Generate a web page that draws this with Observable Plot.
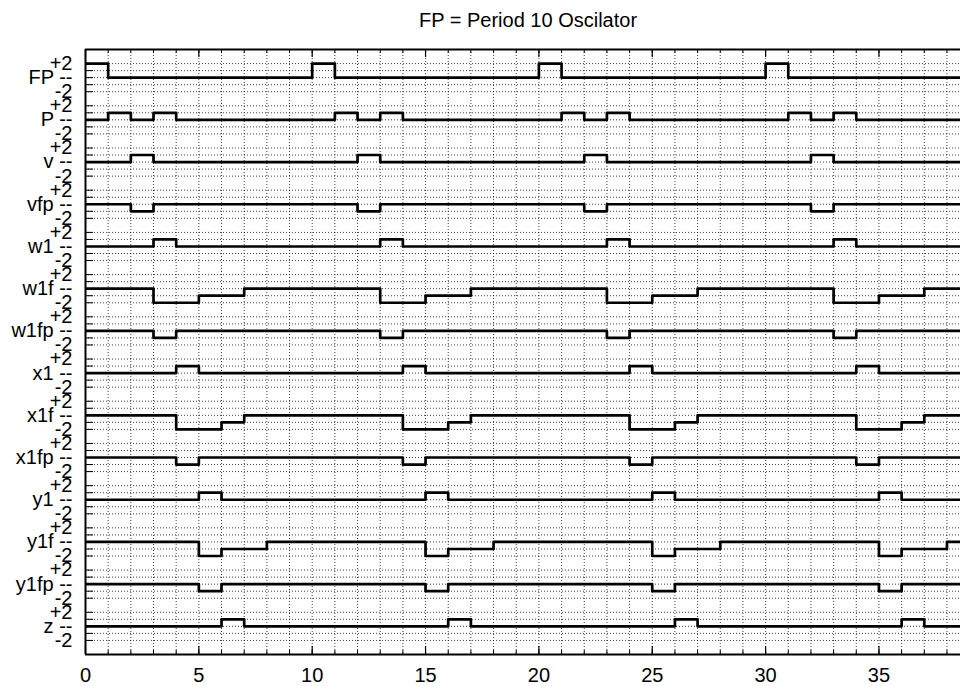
<!DOCTYPE html>
<html><head><meta charset="utf-8">
<script src="https://cdn.jsdelivr.net/npm/d3@7"></script>
<script src="https://cdn.jsdelivr.net/npm/@observablehq/plot@0.6"></script>
<style>body{margin:0;background:#fff}#chart svg{display:block}</style>
</head><body><div id="chart"></div>
<script>
const title = "FP = Period 10 Oscilator";
const names = ["FP","P","v","vfp","w1","w1f","w1fp","x1","x1f","x1fp","y1","y1f","y1fp","z"];
// values at t = 0..39 (step-after)
const FP   = [2,0,0,0,0,0,0,0,0,0, 2,0,0,0,0,0,0,0,0,0, 2,0,0,0,0,0,0,0,0,0, 2,0,0,0,0,0,0,0,0,0];
const P    = [0,1,0,1,0,0,0,0,0,0, 0,1,0,1,0,0,0,0,0,0, 0,1,0,1,0,0,0,0,0,0, 0,1,0,1,0,0,0,0,0,0];
const v    = [0,0,1,0,0,0,0,0,0,0, 0,0,1,0,0,0,0,0,0,0, 0,0,1,0,0,0,0,0,0,0, 0,0,1,0,0,0,0,0,0,0];
const vfp  = [0,0,-1,0,0,0,0,0,0,0, 0,0,-1,0,0,0,0,0,0,0, 0,0,-1,0,0,0,0,0,0,0, 0,0,-1,0,0,0,0,0,0,0];
const w1   = [0,0,0,1,0,0,0,0,0,0, 0,0,0,1,0,0,0,0,0,0, 0,0,0,1,0,0,0,0,0,0, 0,0,0,1,0,0,0,0,0,0];
const w1f  = [0,0,0,-2,-2,-1,-1,0,0,0, 0,0,0,-2,-2,-1,-1,0,0,0, 0,0,0,-2,-2,-1,-1,0,0,0, 0,0,0,-2,-2,-1,-1,0,0,0];
const w1fp = [0,0,0,-1,0,0,0,0,0,0, 0,0,0,-1,0,0,0,0,0,0, 0,0,0,-1,0,0,0,0,0,0, 0,0,0,-1,0,0,0,0,0,0];
const x1   = [0,0,0,0,1,0,0,0,0,0, 0,0,0,0,1,0,0,0,0,0, 0,0,0,0,1,0,0,0,0,0, 0,0,0,0,1,0,0,0,0,0];
const x1f  = [0,0,0,0,-2,-2,-1,0,0,0, 0,0,0,0,-2,-2,-1,0,0,0, 0,0,0,0,-2,-2,-1,0,0,0, 0,0,0,0,-2,-2,-1,0,0,0];
const x1fp = [0,0,0,0,-1,0,0,0,0,0, 0,0,0,0,-1,0,0,0,0,0, 0,0,0,0,-1,0,0,0,0,0, 0,0,0,0,-1,0,0,0,0,0];
const y1   = [0,0,0,0,0,1,0,0,0,0, 0,0,0,0,0,1,0,0,0,0, 0,0,0,0,0,1,0,0,0,0, 0,0,0,0,0,1,0,0,0,0];
const y1f  = [0,0,0,0,0,-2,-1,-1,0,0, 0,0,0,0,0,-2,-1,-1,0,0, 0,0,0,0,0,-2,-1,-1,0,0, 0,0,0,0,0,-2,-1,-1,0,0];
const y1fp = [0,0,0,0,0,-1,0,0,0,0, 0,0,0,0,0,-1,0,0,0,0, 0,0,0,0,0,-1,0,0,0,0, 0,0,0,0,0,-1,0,0,0,0];
const z    = [0,0,0,0,0,0,1,0,0,0, 0,0,0,0,0,0,1,0,0,0, 0,0,0,0,0,0,1,0,0,0, 0,0,0,0,0,0,1,0,0,0];
const series = [FP,P,v,vfp,w1,w1f,w1fp,x1,x1f,x1fp,y1,y1f,y1fp,z];

const bandLabels = ["+2","--","-2"];
const bandLabelOffsets = [2,0,-2];
const bandTickOffsets = [2,1,0,-1,-2];
const xMajorTicks = [0,5,10,15,20,25,30,35];
const xMinorTicks = [0,1,2,3,4,5,6,7,8,9,10,11,12,13,14,15,16,17,18,19,20,21,22,23,24,25,26,27,28,29,30,31,32,33,34,35,36,37,38];

// layout
const W = 960, H = 686, mL = 85, mR = 0, mT = 49, mB = 32;
const plotW = W - mL - mR, plotH = H - mT - mB;
const bandStep = 6;
const yDomain = [-(names.length - 1) * bandStep - 4, 4];
const xDomain = [0, plotW / 22.67];

const rows = [];
series.forEach((vals, k) => vals.forEach((val, t) => rows.push({name: names[k], t, y: -k * bandStep + val})));

const allYTicks = [];
const labelTicks = [];
const labelMap = new Map();
names.forEach((n, k) => {
  const c = -k * bandStep;
  bandTickOffsets.forEach(o => allYTicks.push(c + o));
  bandLabelOffsets.forEach((o, i) => {
    labelTicks.push(c + o);
    labelMap.set(c + o, i === 1 ? n + " " + bandLabels[i] : bandLabels[i]);
  });
});

const dotted = {stroke: "#000", strokeOpacity: 0.75, strokeDasharray: "1,2", strokeWidth: 1};

const chart = Plot.plot({
  width: W, height: H,
  marginLeft: mL, marginRight: mR, marginTop: mT, marginBottom: mB,
  style: {fontFamily: "'Liberation Sans', Arial, Helvetica, sans-serif", fontSize: "20px", background: "#fff", color: "#000"},
  x: {domain: xDomain},
  y: {domain: yDomain},
  marks: [
    Plot.ruleX(xMinorTicks, dotted),
    Plot.ruleY(allYTicks, dotted),
    Plot.ruleY(allYTicks, {stroke: "#000", strokeWidth: 1, insetRight: plotW - 8}),
    Plot.ruleX(xMinorTicks, {stroke: "#000", strokeWidth: 1, insetTop: plotH - 4}),
    Plot.ruleX(xMinorTicks, {stroke: "#000", strokeWidth: 1, insetBottom: plotH - 4}),
    Plot.ruleX(xMajorTicks, {stroke: "#000", strokeWidth: 1.2, insetTop: plotH - 8}),
    Plot.ruleX(xMajorTicks, {stroke: "#000", strokeWidth: 1.2, insetBottom: plotH - 8}),
    Plot.line(rows, {x: "t", y: "y", z: "name", curve: "step-after", stroke: "#000", strokeWidth: 2.7, clip: true}),
    Plot.ruleX([0], {stroke: "#000", strokeWidth: 2}),
    Plot.ruleY(yDomain, {stroke: "#000", strokeWidth: 2}),
    Plot.axisX(xMajorTicks, {anchor: "bottom", tickSize: 0, tickPadding: 13, label: null, fontSize: 20, tickFormat: d => String(d)}),
    Plot.axisY(labelTicks, {anchor: "left", tickSize: 0, tickPadding: 13, label: null, fontSize: 20, tickFormat: d => labelMap.get(d)}),
    Plot.text([title], {frameAnchor: "top", lineAnchor: "middle", dy: -29, dx: 5, fontSize: 20, fill: "#000"})
  ]
});
document.getElementById("chart").appendChild(chart);
</script>
</body></html>
